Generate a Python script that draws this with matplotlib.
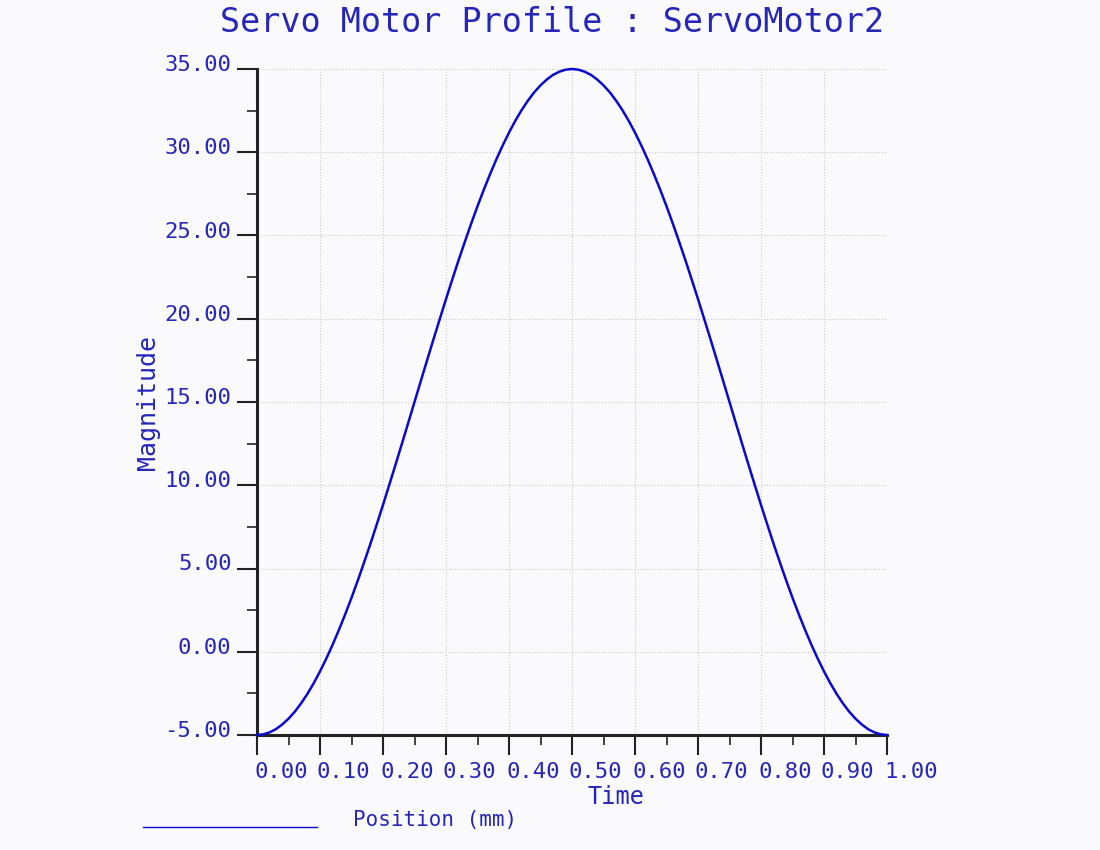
import matplotlib
matplotlib.use("Agg")
import matplotlib.pyplot as plt
import matplotlib.transforms as mtransforms
from matplotlib.lines import Line2D
from matplotlib.ticker import MultipleLocator
import numpy as np

time = np.linspace(0.0, 1.0, 101)
magnitude = [-5.00, -4.96, -4.84, -4.65, -4.37, -4.02, -3.60, -3.10, -2.53, -1.89,
             -1.18, -0.41, 0.42, 1.31, 2.25, 3.24, 4.28, 5.37, 6.48, 7.64,
             8.82, 10.03, 11.25, 12.49, 13.74, 15.00, 16.26, 17.51, 18.75, 19.97,
             21.18, 22.36, 23.52, 24.63, 25.72, 26.76, 27.75, 28.69, 29.58, 30.41,
             31.18, 31.89, 32.53, 33.10, 33.60, 34.02, 34.37, 34.65, 34.84, 34.96,
             35.00,
             34.96, 34.84, 34.65, 34.37, 34.02, 33.60, 33.10, 32.53, 31.89, 31.18,
             30.41, 29.58, 28.69, 27.75, 26.76, 25.72, 24.63, 23.52, 22.36, 21.18,
             19.97, 18.75, 17.51, 16.26, 15.00, 13.74, 12.49, 11.25, 10.03, 8.82,
             7.64, 6.48, 5.37, 4.28, 3.24, 2.25, 1.31, 0.42, -0.41, -1.18,
             -1.89, -2.53, -3.10, -3.60, -4.02, -4.37, -4.65, -4.84, -4.96, -5.00]

x_ticks = [0.0, 0.1, 0.2, 0.3, 0.4, 0.5, 0.6, 0.7, 0.8, 0.9, 1.0]
y_ticks = [-5, 0, 5, 10, 15, 20, 25, 30, 35]

title = "Servo Motor Profile : ServoMotor2"
series_name = "Position (mm)"

txt = "#2626b8"
line_col = "#0a0acc"
axis_col = "#222222"
bg = "#fafafc"

plt.rcParams["font.family"] = ["DejaVu Sans Mono"]
plt.rcParams["axes.unicode_minus"] = False

fig = plt.figure(figsize=(11, 8.5), dpi=100, facecolor=bg)
ax = fig.add_axes([257 / 1100, 1 - 735 / 850, 630 / 1100, 666 / 850])
ax.set_facecolor(bg)

ax.plot(time, magnitude, color=line_col, lw=1.8, clip_on=False, zorder=3)

ax.set_xlim(0, 1)
ax.set_ylim(-5, 35)
ax.set_xticks(x_ticks)
ax.set_yticks(y_ticks)
ax.xaxis.set_minor_locator(MultipleLocator(0.05))
ax.yaxis.set_minor_locator(MultipleLocator(2.5))
ax.set_xticklabels(["%.2f" % v for v in x_ticks], ha="left")
ax.set_yticklabels(["%.2f" % v for v in y_ticks])

for s in ["top", "right"]:
    ax.spines[s].set_visible(False)
for s in ["left", "bottom"]:
    ax.spines[s].set_linewidth(2.2)
    ax.spines[s].set_color(axis_col)

ax.tick_params(which="major", direction="out", length=14.4, width=1.5,
               color=axis_col, labelcolor=txt, labelsize=16)
ax.tick_params(which="minor", direction="out", length=7.2, width=1.2, color=axis_col)
ax.tick_params(axis="x", pad=5)
ax.tick_params(axis="y", pad=4)

ax.grid(True, which="major", color="#c9c9cf", linestyle=":", linewidth=0.8)

shift_up = mtransforms.ScaledTranslation(0, 6 / 100, fig.dpi_scale_trans)
for lab in ax.get_yticklabels():
    lab.set_transform(lab.get_transform() + shift_up)
shift_left = mtransforms.ScaledTranslation(-3 / 100, 0, fig.dpi_scale_trans)
for lab in ax.get_xticklabels():
    lab.set_transform(lab.get_transform() + shift_left)

fig.text(552 / 1100, 1 - 22 / 850, title, ha="center", va="center",
         fontsize=24, color=txt)
fig.text(616 / 1100, 1 - 797 / 850, "Time", ha="center", va="center",
         fontsize=17, color=txt)
fig.text(148 / 1100, 1 - 403 / 850, "Magnitude", ha="center", va="center",
         rotation=90, fontsize=18, color=txt)

fig.add_artist(Line2D([143 / 1100, 317 / 1100], [1 - 827 / 850, 1 - 827 / 850],
                      transform=fig.transFigure, color=line_col, lw=1.0))
fig.text(353 / 1100, 1 - 820 / 850, series_name, ha="left", va="center",
         fontsize=15, color=txt)

fig.savefig("out.png", dpi=100, facecolor=bg)
